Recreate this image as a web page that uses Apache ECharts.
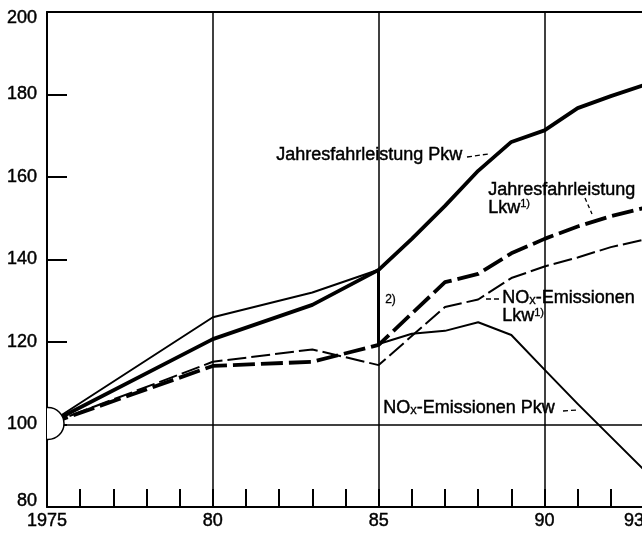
<!DOCTYPE html>
<html><head><meta charset="utf-8">
<script src="https://cdn.jsdelivr.net/npm/echarts@6/dist/echarts.min.js"></script>
<style>html,body{margin:0;padding:0;background:#fff}#c{width:642px;height:538px}</style>
</head><body><div id="c"></div>
<script>
// ---- data (index 1975 = 100) ----
const xTickLabels = {1975: '1975', 1980: '80', 1985: '85', 1990: '90', 1993: '93'};
const origin = [1975, 100];
const referenceLevel = 100;
const fahrPkw = [[1975,100],[1980,120.7],[1983,129],[1985,137.5],[1986,145],[1987,153],[1988,161.5],[1989,168.5],[1990,171.3],[1991,176.7],[1992,179.6],[1993,182.3]];
const fahrLkw = [[1975,100],[1980,114.2],[1983,115.2],[1985,119.3],[1987,134.5],[1988,136.5],[1989,141.5],[1990,145],[1991,148],[1992,150.5],[1993,152.5]];
const noxLkw  = [[1975,100],[1980,115.2],[1983,118.2],[1985,114.4],[1987,128.5],[1988,130.3],[1989,135.5],[1990,138.3],[1991,140.5],[1992,143],[1993,144.8]];
const noxPkwOld = [[1975,100],[1980,126],[1983,132],[1985,137.5]];
const noxPkwNew = [[1985,119.5],[1986,122],[1987,122.7],[1988,124.8],[1989,121.7],[1990,113.3],[1991,105],[1992,97],[1993,89]];

const FONT = '"Liberation Sans", Arial, Helvetica, sans-serif';
const BLACK = '#000';
const chart = echarts.init(document.getElementById('c'), null, {renderer: 'canvas'});

const lineSeries = (data, width, dash, extra) => Object.assign({
  type: 'line', data, xAxisIndex: 0, yAxisIndex: 0, symbol: 'none', showSymbol: false,
  silent: true, animation: false, z: 3,
  lineStyle: {color: BLACK, width, type: dash || 'solid', cap: 'butt', join: 'round'}
}, extra || {});

const richLbl = {
  sub: {fontSize: 13, fontFamily: FONT, fill: BLACK, stroke: BLACK, lineWidth: 0.3, verticalAlign: 'bottom', lineHeight: 18},
  sup: {fontSize: 11, fontFamily: FONT, fill: BLACK, stroke: BLACK, lineWidth: 0.3, verticalAlign: 'top', lineHeight: 18}
};
const txt = (extra) => Object.assign({font: '18px ' + FONT, fill: BLACK, stroke: BLACK, lineWidth: 0.45}, extra);

chart.setOption({
  backgroundColor: '#fff',
  animation: false,
  grid: {left: 47, right: -2, top: 12, bottom: 31, containLabel: false, outerBoundsMode: 'none'},
  xAxis: [{
    type: 'value', min: 1975, max: 1993, interval: 1, position: 'bottom',
    axisLine: {show: true, onZero: false, lineStyle: {color: BLACK, width: 2}},
    axisTick: {show: true, inside: true, length: 18, lineStyle: {color: BLACK, width: 2}},
    axisLabel: {formatter: v => xTickLabels[v] || '', color: BLACK, fontSize: 18, fontFamily: FONT,
      textBorderColor: BLACK, textBorderWidth: 0.45,
      margin: 5, showMinLabel: true, showMaxLabel: true, alignMaxLabel: 'right'},
    splitLine: {show: false}
  }, {
    type: 'value', min: 1975, max: 1993, interval: 5, position: 'top',
    axisLine: {show: true, onZero: false, lineStyle: {color: BLACK, width: 2}},
    axisTick: {show: false}, axisLabel: {show: false},
    splitLine: {show: true, lineStyle: {color: BLACK, width: 1.5}}
  }],
  yAxis: [{
    type: 'value', min: 80, max: 200, interval: 20,
    axisLine: {show: true, onZero: false, lineStyle: {color: BLACK, width: 2}},
    axisTick: {show: true, inside: true, length: 20, lineStyle: {color: BLACK, width: 2}},
    axisLabel: {color: BLACK, fontSize: 18, fontFamily: FONT, margin: 10,
      textBorderColor: BLACK, textBorderWidth: 0.45,
      formatter: v => v === 200 ? '{top|200}' : (v === 80 ? '{bot|80}' : String(v)),
      rich: {top: {fontSize: 18, fontFamily: FONT, color: BLACK, textBorderColor: BLACK, textBorderWidth: 0.45, padding: [12, 0, 0, 0]},
             bot: {fontSize: 18, fontFamily: FONT, color: BLACK, textBorderColor: BLACK, textBorderWidth: 0.45, padding: [0, 0, 12, 0]}}},
    splitLine: {show: false}
  }],
  series: [
    lineSeries(fahrPkw, 3.8, 'solid', {
      markLine: {silent: true, symbol: 'none', label: {show: false}, animation: false,
        lineStyle: {color: BLACK, width: 1.5, type: 'solid'}, data: [{yAxis: referenceLevel}]}
    }),
    lineSeries(fahrLkw, 3.8, [22, 6]),
    lineSeries(noxLkw, 2, [19, 5]),
    lineSeries(noxPkwOld, 2),
    lineSeries(noxPkwNew, 2, 'solid', {
      markLine: {silent: true, symbol: 'none', label: {show: false}, animation: false,
        lineStyle: {color: BLACK, width: 3, type: 'solid'},
        data: [[{coord: noxPkwOld[noxPkwOld.length - 1]}, {coord: noxPkwNew[0]}]]}
    }),
    {type: 'custom', data: [origin], xAxisIndex: 0, yAxisIndex: 0, z: 10, silent: true, clip: true,
      encode: {x: 0, y: 1},
      renderItem: (params, api) => {
        const p = api.coord([api.value(0), api.value(1)]);
        return {type: 'circle',
          shape: {cx: p[0] + 1, cy: p[1] - 1, r: 16},
          style: {fill: '#fff', stroke: BLACK, lineWidth: 1.5}};
      }}
  ],
  graphic: [
    {type: 'text', left: 276, top: 146, z: 20, silent: true,
      style: txt({text: 'Jahresfahrleistung Pkw'})},
    {type: 'line', z: 20, silent: true, shape: {x1: 467, y1: 157, x2: 488, y2: 154},
      style: {stroke: BLACK, lineWidth: 1.3, lineDash: [5, 3]}},
    {type: 'text', left: 488, top: 181, z: 20, silent: true,
      style: txt({text: 'Jahresfahrleistung\nLkw{sup|1)}', lineHeight: 17, rich: richLbl})},
    {type: 'line', z: 20, silent: true, shape: {x1: 585, y1: 198, x2: 592, y2: 214},
      style: {stroke: BLACK, lineWidth: 1.3, lineDash: [4, 3]}},
    {type: 'text', left: 502, top: 289, z: 20, silent: true,
      style: txt({text: 'NO{sub|x}-Emissionen\nLkw{sup|1)}', lineHeight: 18, rich: richLbl})},
    {type: 'line', z: 20, silent: true, shape: {x1: 486, y1: 299, x2: 501, y2: 299},
      style: {stroke: BLACK, lineWidth: 1.3, lineDash: [5, 3]}},
    {type: 'text', left: 383, top: 399, z: 20, silent: true,
      style: txt({text: 'NO{sub|x}-Emissionen Pkw', lineHeight: 18, rich: richLbl})},
    {type: 'line', z: 20, silent: true, shape: {x1: 563, y1: 411, x2: 578, y2: 410},
      style: {stroke: BLACK, lineWidth: 1.3, lineDash: [5, 3]}},
    {type: 'text', left: 385, top: 294, z: 20, silent: true,
      style: txt({text: '2)', font: '12px ' + FONT, lineWidth: 0.3})}
  ]
});
</script>
</body></html>
